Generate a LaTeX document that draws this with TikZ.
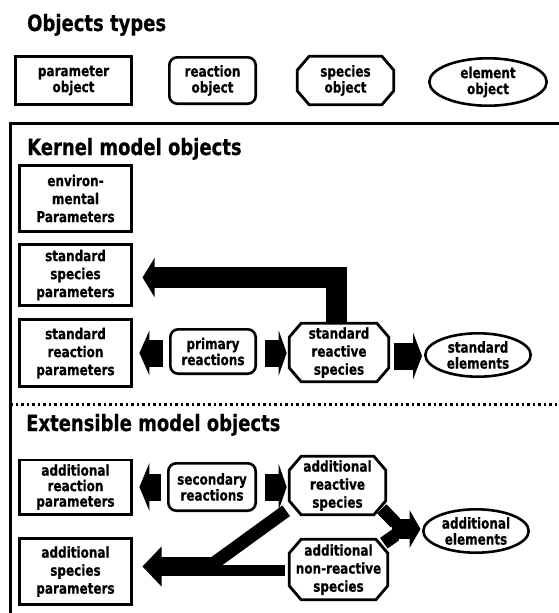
\documentclass[tikz,border=0pt]{standalone}
\usepackage{fontspec}
\setmainfont{DejaVu Sans}[FakeStretch=0.8, BoldFeatures={FakeBold=0.5}]
\usetikzlibrary{calc,shapes.geometric}
\pgfdeclarelayer{arrowlayer}
\pgfdeclarelayer{shapelayer}
\pgfsetlayers{arrowlayer,shapelayer,main}
\newcommand\mythreefont{\fontsize{15}{18}\selectfont\bfseries}
\newcommand\mytightfont{\fontsize{15}{15.5}\selectfont\bfseries}
\newcommand\mytwofont{\fontsize{15}{16}\selectfont\bfseries}
\newcommand\myheadfont{\fontsize{22.5}{26}\selectfont\bfseries}
\newcommand\octa[1]{\begin{pgfonlayer}{shapelayer}\draw[line width=2.8pt, fill=white] ($(#1.north west)+(12,0)$) -- ($(#1.north east)+(-12,0)$) -- ($(#1.north east)+(0,14)$) -- ($(#1.south east)+(0,-14)$) -- ($(#1.south east)+(-12,0)$) -- ($(#1.south west)+(12,0)$) -- ($(#1.south west)+(0,-14)$) -- ($(#1.north west)+(0,14)$) -- cycle;\end{pgfonlayer}}
% horizontal block arrow: #1 start, #2 tip, #3 sign (1 points left, -1 points right), #4 shaft width, #5 head half width, #6 head length
\newcommand\harrow[6]{\draw[line width=#4] (#1) -- ($(#2)+({#3*(#6-1)},0)$); \fill ($(#2)+({#3*#6},-#5)$) -- (#2) -- ($(#2)+({#3*#6},#5)$) -- cycle;}
\begin{document}
\begin{tikzpicture}[x=1pt,y=-1pt,
  txt/.style={font=\mythreefont, align=center, inner sep=0pt},
  two/.style={font=\mytwofont},
  tight/.style={font=\mytightfont},
  parambox/.style={txt, draw, fill=white, line width=2.8pt},
  reactbox/.style={txt, two, draw, fill=white, line width=2.6pt, rounded corners=8pt},
  elembox/.style={txt, two, draw, fill=white, line width=2.6pt, ellipse},
  specbox/.style={txt},
  heading/.style={font=\myheadfont, anchor=base west, inner sep=0pt},
  framerule/.style={line width=3pt}]
\useasboundingbox (0,0) rectangle (558,613);

% headings
\node[heading] (h1) at (27,31) {Objects types};
\node[heading] (h2) at (27,155) {Kernel model objects};
\node[heading] (h3) at (26,431) {Extensible model objects};

% object types row
\node[parambox, two, minimum width=116pt, minimum height=48pt] (paramobj) at (73.5,80.5) {parameter\\object};
\node[reactbox, minimum width=86.4pt, minimum height=46.4pt] (reactobj) at (212.5,80.5) {reaction\\object};
\node[specbox, two, minimum width=96.2pt, minimum height=48.2pt] (speciesobj) at (345.5,80.5) {species\\object};
\node[elembox, minimum width=117.4pt, minimum height=47.4pt] (elemobj) at (488,82) {element\\object};

% kernel
\node[parambox, minimum width=112.2pt, minimum height=66.2pt] (envparams) at (75.5,198.5) {environ-\\mental\\Parameters};
\node[parambox, minimum width=112.2pt, minimum height=61.2pt] (stdspecparams) at (75.5,275) {standard\\species\\parameters};
\node[parambox, minimum width=112.2pt, minimum height=67.2pt] (stdreactparams) at (75.5,353) {standard\\reaction\\parameters};
\node[reactbox, minimum width=85.4pt, minimum height=44.4pt] (primary) at (213,351.5) {primary\\reactions};
\node[specbox, minimum width=99.2pt, minimum height=58.2pt] (stdreactive) at (339,352.5) {standard\\reactive\\species};
\node[elembox, minimum width=105.4pt, minimum height=43.4pt] (stdelements) at (478,355) {standard\\elements};

% extensible
\node[parambox, tight, minimum width=112.2pt, minimum height=54.2pt] (addreactparams) at (75.5,487) {additional\\reaction\\parameters};
\node[reactbox, minimum width=87.4pt, minimum height=47.4pt] (secondary) at (212,487) {secondary\\reactions};
\node[specbox, minimum width=96.2pt, minimum height=58.2pt] (addreactive) at (337.5,485.5) {additional\\reactive\\species};
\node[elembox, minimum width=105.4pt, minimum height=43.4pt] (addelements) at (476,531) {additional\\elements};
\node[specbox, minimum width=98.2pt, minimum height=60.2pt] (addnonreactive) at (338.5,569.5) {additional\\non-reactive\\species};
\node[parambox, minimum width=112.2pt, minimum height=66.2pt] (addspecparams) at (75.5,571.5) {additional\\species\\parameters};

\octa{speciesobj}
\octa{stdreactive}
\octa{addreactive}
\octa{addnonreactive}

% frame
\coordinate (fr1) at (10,123.5);
\coordinate (fr2) at (562,123.5);
\coordinate (fr3) at (10,616);
\draw[framerule] (fr3) -- (fr1) -- (fr2);
\coordinate (dl1) at (10,404);
\coordinate (dl2) at (562,404);
\draw[line width=3pt, dash pattern=on 2.5pt off 3pt] (dl1) -- (dl2);

\begin{pgfonlayer}{arrowlayer}
% kernel arrows
\coordinate (a1s) at ([xshift=-6pt,yshift=-1.5pt]primary.west);
\coordinate (a1t) at ($(stdreactparams.east |- a1s)+(6.4,0)$);
\harrow{a1s}{a1t}{1}{27pt}{22.5}{10}
\coordinate (a2s) at ([xshift=8pt,yshift=-1.5pt]primary.east);
\coordinate (a2t) at ($(stdreactive.west |- a2s)+(-2.5,0)$);
\harrow{a2s}{a2t}{-1}{27pt}{22.5}{8}
\coordinate (a3s) at ([xshift=5pt,yshift=-3.5pt]stdreactive.east);
\coordinate (a3t) at ($(stdelements.west |- a3s)+(-2,0)$);
\harrow{a3s}{a3t}{-1}{27pt}{23.5}{9}
\coordinate (a4t) at ($(stdspecparams.east)+(9.5,2.5)$);
\draw[line width=21pt] ([xshift=-3pt]stdreactive.north) |- ($(a4t)+(11,0)$);
\fill ($(a4t)+(12,-19.5)$) -- (a4t) -- ($(a4t)+(12,19.5)$) -- cycle;
% extensible arrows
\coordinate (a5s) at ([xshift=-6pt]secondary.west);
\coordinate (a5t) at ($(addreactparams.east |- a5s)+(6.4,0)$);
\harrow{a5s}{a5t}{1}{27pt}{24}{10}
\coordinate (a6s) at ([xshift=8pt]secondary.east);
\coordinate (a6t) at ($(addreactive.west |- a6s)+(-2.5,0)$);
\harrow{a6s}{a6t}{-1}{27pt}{23}{8}
% fork to additional species parameters
\coordinate (ft) at ($(addspecparams.east)+(9.5,-5)$);
\coordinate (fj) at ($(addnonreactive.west |- ft)+(-72,0)$);
\harrow{fj}{ft}{1}{19pt}{20}{19}
\draw[line width=11pt] ($(addnonreactive.west)+(-4,1)$) -- ($(fj)+(-6,4)$);
\draw[line width=13pt] ($(addreactive.south west)+(-3,-4)$) -- ($(fj)+(-3,-3.5)$);
% merge to additional elements
\coordinate (mt) at ($(addelements.west)+(-1.5,-2)$);
\coordinate (ms) at ($(mt)+(-29,0)$);
\harrow{ms}{mt}{-1}{20pt}{19}{11}
\draw[line width=13pt] ($(addreactive.south east)+(-4,-6)$) -- ($(mt)+(-25,-6)$);
\draw[line width=13pt] ($(addnonreactive.north east)+(-4,4)$) -- ($(mt)+(-25,6)$);
\end{pgfonlayer}
\end{tikzpicture}
\end{document}
